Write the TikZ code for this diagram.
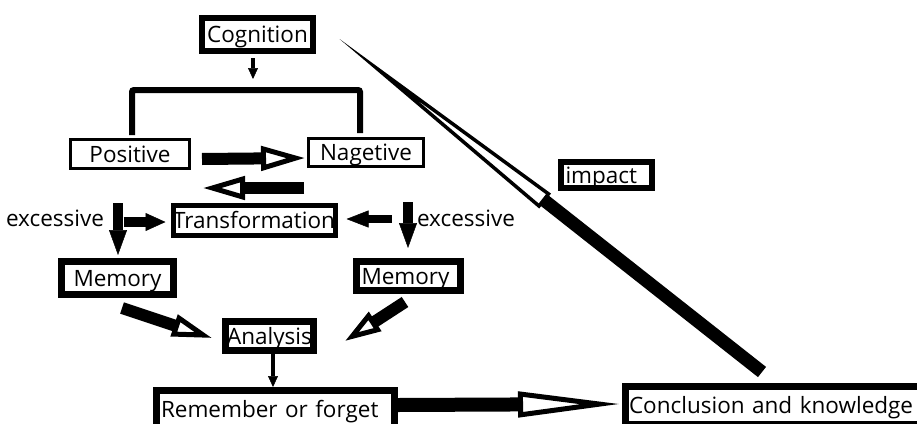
\documentclass[tikz,border=0pt]{standalone}
\usepackage{fontspec}
\setmainfont{Open Sans}
\usetikzlibrary{arrows.meta,calc}

\begin{document}
\begin{tikzpicture}[x=1pt,y=-1pt,font=\fontsize{22.5}{27}\selectfont,
  box/.style={draw,line width=6pt,inner sep=0pt,text height=16pt,text depth=0pt},
  hollowarrow/.style n args={4}{line width=#1,-{Triangle[open,length=#2,width=#3,line width=#4]}},
  blockarrow/.style n args={3}{line width=#1,-{Triangle[length=#2,width=#3,line width=0.5pt]}},
  thinarrow/.style={line width=4pt,-{Triangle[length=11pt,width=10pt,line width=0.5pt]}}]
\useasboundingbox (0,0) rectangle (917,423); %page

\node[box,minimum width=111pt,minimum height=33pt] (cog) at (257.5,34.5) {Cognition}; %top box
\node[box,line width=3pt,minimum width=119pt,minimum height=29pt] (pos) at (130,154) {Positive};
\node[box,line width=3pt,minimum width=115pt,minimum height=28pt] (neg) at (366,152.5) {Nagetive};
\node[box,line width=5pt,minimum width=159pt,minimum height=30pt] (trans) at (254,220.5) {Transformation};
\node[box,line width=7pt,minimum width=112pt,minimum height=33pt] (memL) at (117.5,278) {Memory};
\node[box,line width=7pt,minimum width=104pt,minimum height=29pt,text width=94pt,align=left] (memR) at (408.5,276) {Memory};
\node[box,line width=7pt,minimum width=88pt,minimum height=29pt] (ana) at (269.5,336) {Analysis};
\node[box,line width=7pt,minimum width=238pt,minimum height=38pt,text width=229pt,align=left] (rem) at (275.5,409.5) {Remember or forget};
\node[box,line width=7pt,minimum width=301pt,minimum height=38pt,text width=294pt,align=left] (conc) at (776,405.5) {Conclusion and knowledge};
\node[box,minimum width=91pt,minimum height=26pt,text width=82pt,align=left] (imp) at (606.5,175) {impact};
\node (excL) at (55,218) {excessive};
\node (excR) at (466,218) {excessive};

% bracket under cognition
\coordinate (brk) at ($(cog.south)+(-4.5,36)$);
\draw[line width=6pt,rounded corners=2pt] ($(pos.north)+(2,-3)$) |- (brk) -| ($(neg.north)+(-6,-4)$);
\draw[thinarrow] ($(cog.south)+(-4.5,4)$) -- ($(brk)+(0,-11)$);

% positive <-> nagetive
\draw[hollowarrow={12pt}{44pt}{24pt}{5pt}] ($(pos.east)+(11,5)$) -- ($(neg.west)+(-2,5.5)$);
\coordinate (backS) at ($(neg.south)+(-62,20)$);
\coordinate (backE) at ($(pos.south)+(73,18)$);
\draw[hollowarrow={12pt}{42pt}{23pt}{5pt}] (backS) -- (backE);

% excessive arrows
\coordinate (exL) at ($(memL.north)+(0.5,-55)$);
\draw[blockarrow={10pt}{25pt}{18pt}] (exL) -- ($(memL.north)+(0.5,-3)$);
\draw[blockarrow={10pt}{20pt}{18pt}] ($(trans.west)+(-47,1.5)$) -- ($(trans.west)+(-5,1.5)$);
\coordinate (exR) at ($(memR.north)+(-0.5,-56)$);
\draw[blockarrow={10pt}{25pt}{18pt}] (exR) -- ($(memR.north)+(-0.5,-10)$);
\draw[blockarrow={8pt}{22pt}{17pt}] ($(trans.east)+(54,-1.5)$) -- ($(trans.east)+(9,-1.5)$);

% memory to analysis
\draw[hollowarrow={12pt}{40pt}{22pt}{5pt}] ($(memL.south)+(4.5,10)$) -- ($(ana.west)+(-10,2)$);
\draw[hollowarrow={12pt}{36pt}{22pt}{5pt}] ($(memR.south)+(-3.5,8)$) -- ($(ana.east)+(28,5)$);
\draw[thinarrow] ($(ana.south)+(3.5,0)$) -- ($(rem.north)+(-2.5,0)$);

% to conclusion
\draw[hollowarrow={14pt}{102pt}{25pt}{5pt}] ($(rem.east)+(0,-4.5)$) -- ($(conc.west)+(-2,-1.5)$);
\draw[miter limit=200,hollowarrow={13pt}{265pt}{18pt}{3.5pt}] ($(conc.north)+(-14,-11)$) -- ($(cog.east)+(21,2.5)$); %impact arrow
\end{tikzpicture}
\end{document}
